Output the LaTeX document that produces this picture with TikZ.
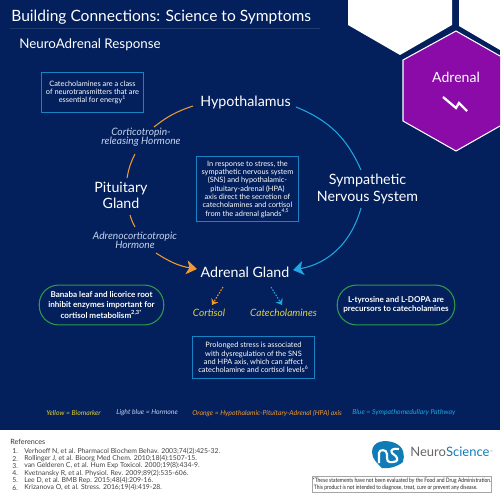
\documentclass[tikz,border=0pt]{standalone}
\usepackage{fontspec}
\setmainfont{Lato}
\newfontfamily\notefont[FakeStretch=0.82]{Lato}
\usetikzlibrary{arrows.meta}
\definecolor{navy}{HTML}{03205C}
\definecolor{hexpurple}{HTML}{8A0BA8}
\definecolor{hpaorange}{HTML}{F29A2E}
\definecolor{smblue}{HTML}{1EA7E1}
\definecolor{boxblue}{HTML}{1583C4}
\definecolor{pillgreen}{HTML}{2E9A4A}
\definecolor{hormoneblue}{HTML}{C5D3F0}
\definecolor{markeryellow}{HTML}{E0D040}
\definecolor{nsblue}{HTML}{0F7CB8}
\tikzset{
  organ/.style={text=white, align=center, inner sep=0pt, font=\fontsize{8.1}{9.2}\selectfont},
  hormone/.style={text=hormoneblue, align=center, inner sep=0pt, font=\fontsize{5.8}{5.3}\selectfont\itshape},
  marker/.style={text=markeryellow, inner sep=0pt, font=\fontsize{5.75}{7}\selectfont\itshape},
  infobox/.style={draw=boxblue, line width=0.6pt, text=white, align=center, inner sep=0pt, font=\fontsize{4.2}{4.75}\selectfont},
  pillbox/.style={draw=pillgreen, line width=0.6pt, text=white, align=center, rounded corners=11pt, inner sep=0pt, font=\fontsize{4.6}{5.2}\selectfont\bfseries},
  legend/.style={anchor=west, inner sep=0pt, font=\fontsize{3.9}{4}\selectfont\itshape},
  reftext/.style={anchor=west, inner sep=0pt, text=black!75, font=\fontsize{3.9}{4}\selectfont},
  hpa/.style={draw=hpaorange, line width=0.6pt},
  sm/.style={draw=smblue, line width=0.6pt},
  bighead/.style={-{Stealth[length=6pt, width=8pt, inset=1.6pt]}},
  dotarrow/.style={line width=0.6pt, dash pattern=on 0.9pt off 0.8pt, -{Stealth[length=3.2pt, width=4.6pt]}}
}
\begin{document}
\begin{tikzpicture}[x=0.02cm, y=-0.02cm]
\useasboundingbox (0,0) rectangle (500,500);
% Background
\fill[navy] (0,0) rectangle (500,430);
\fill[white] (348,0) -- (348,25) -- (400,55) -- (452,25) -- (452,0) -- cycle;
\fill[white] (459,0) -- (459,26) -- (500,50) -- (500,0) -- cycle;
\draw[white, line width=0.6pt, fill=hexpurple] (500,56) -- (456,31) -- (403,60) -- (403,121) -- (456,151) -- (500,126);

% Headings
\node[anchor=west, inner sep=0pt, text=white, font=\fontsize{8.85}{10}\selectfont] (title) at (11,17) {Building Connections: Science to Symptoms};
\node[anchor=west, inner sep=0pt, text=white, font=\fontsize{7.6}{9}\selectfont] (subtitle) at (19,45) {NeuroAdrenal Response};
\draw[white, opacity=0.12, line width=0.3pt] (10,28) -- (320,28);

% Hexagon label
\node[text=white, font=\fontsize{8}{9}\selectfont] (adrenal) at (456,77) {Adrenal};
\draw[white, line width=1.3pt] (443,97) -- (456,108) -- (459,103) -- (467,111);

% Stations of the loop
\node[organ] (hypo) at (245.5,102) {Hypothalamus};
\node[organ] (pit) at (121,195) {Pituitary\\Gland};
\node[organ] (sns) at (367.5,189) {Sympathetic\\Nervous System};
\node[organ] (gland) at (245,272) {Adrenal Gland};
\node[hormone] (crh) at (141,137.5) {Corticotropin-\\releasing Hormone};
\node[hormone] (acth) at (135,240) {Adrenocorticotropic\\Hormone};

% Orange loop
\coordinate (h1) at (193,106);
\coordinate (c1) at (154,127);
\coordinate (c2) at (135,154);
\coordinate (p1) at (127,178);
\coordinate (p2) at (130,215);
\coordinate (a1) at (135,227);
\coordinate (a2) at (156,253);
\coordinate (g1) at (197,269);
\draw[hpa] (h1) to[bend right=10] (c1);
\draw[hpa] (c2) to[bend right=8] (p1);
\draw[hpa] (p2) to[bend right=6] (a1);
\draw[hpa, bighead] (a2) to[bend right=12] (g1);

% Blue loop
\coordinate (h2) at (296,107);
\coordinate (s1) at (361,170);
\coordinate (s2) at (361,208);
\coordinate (g2) at (293,270);
\draw[sm] (h2) to[bend left=22] (s1);
\draw[sm, bighead] (s2) to[bend left=32] (g2);

% Products
\node[marker] (cort) at (209,313) {Cortisol};
\node[marker] (cat) at (283.5,313) {Catecholamines};
\coordinate (g3) at (223,287);
\coordinate (g4) at (271,287);
\coordinate (c3) at (212,305);
\coordinate (c4) at (282,305);
\draw[hpaorange, dotarrow] (g3) -- (c3);
\draw[smblue, dotarrow] (g4) -- (c4);

% Boxes
\node[infobox, minimum width=103*0.567pt, minimum height=41*0.567pt] (box1) at (92.5,92.5) {Catecholamines are a class\\of neurotransmitters that are\\essential for energy\textsuperscript{1}};
\node[infobox, minimum width=103*0.567pt, minimum height=66*0.567pt] (box2) at (247.5,189) {In response to stress, the\\sympathetic nervous system\\(SNS) and hypothalamic-\\pituitary-adrenal (HPA)\\axis direct the secretion of\\catecholamines and cortisol\\from the adrenal glands\textsuperscript{4,5}};
\node[infobox, minimum width=123*0.567pt, minimum height=43*0.567pt] (box3) at (253.5,357.5) {Prolonged stress is associated\\with dysregulation of the SNS\\and HPA axis, which can affect\\catecholamine and cortisol levels\textsuperscript{6}};
\node[pillbox, minimum width=125*0.567pt, minimum height=40*0.567pt] (pill1) at (101.5,305) {Banaba leaf and licorice root\\inhibit enzymes important for\\cortisol metabolism\textsuperscript{2,3*}};
\node[pillbox, minimum width=118*0.567pt, minimum height=40*0.567pt] (pill2) at (396,305) {L-tyrosine and L-DOPA are\\precursors to catecholamines};

% Legend
\node[legend, text=markeryellow] (l1) at (46,413) {Yellow = Biomarker};
\node[legend, text=hormoneblue] (l2) at (116,413) {Light blue = Hormone};
\node[legend, text=hpaorange] (l3) at (192,413) {Orange = Hypothalamic-Pituitary-Adrenal (HPA) axis};
\node[legend, text=smblue] (l4) at (352,413) {Blue = Sympathomedullary Pathway};

% References
\node[anchor=west, inner sep=0pt, text=black!80, font=\fontsize{4.1}{5}\selectfont] (refs) at (10,441.5) {References};
\foreach \n/\y/\t in {1/451.5/{Verhoeff N, et al. Pharmacol Biochem Behav. 2003;74(2):425-32.},
  2/458.7/{Rollinger J, et al. Bioorg Med Chem. 2010;18(4):1507-15.},
  3/465.9/{van Gelderen C, et al. Hum Exp Toxicol. 2000;19(8):434-9.},
  4/473.2/{Kvetnansky R, et al. Physiol. Rev. 2009;89(2):535-606.},
  5/480.4/{Lee D, et al. BMB Rep. 2015;48(4):209-16.},
  6/487.7/{Krizanova O, et al. Stress. 2016;19(4):419-28.}}
  {
  \node[reftext] (num\n) at (12,\y) {\n.};
  \node[reftext] (ref\n) at (24,\y) {\t};
  }

% Logo
\fill[nsblue] (372,452) .. controls (372,441) and (385,439) .. (395,443) .. controls (404,447) and (405,455) .. (403,462) .. controls (397,467) and (388,469) .. (382,468) .. controls (377,463) and (372,459) .. (372,452) -- cycle;
\draw[white, line width=1.2pt] (379,463) -- (379,453) .. controls (379,449) and (387,449) .. (387,454) -- (387,458) .. controls (387,463) and (391,463) .. (397,461);
\draw[white, line width=1.2pt] (399,449) .. controls (393,448) and (390,450) .. (392,453) .. controls (395,456) and (398,456) .. (397,461);
\node[anchor=west, inner sep=0pt, font=\fontsize{7.4}{8}\selectfont] (brand) at (410,452) {\textcolor{black!60}{Neuro}\textcolor{nsblue}{Science}};
\node[anchor=west, inner sep=0pt, text=black!60, font=\fontsize{2}{2}\selectfont] (tm) at (brand.east) {™};

% Disclaimer
\node[draw=black!35, line width=0.3pt, minimum width=180*0.567pt, minimum height=16*0.567pt, inner sep=0pt, align=left, text=black!85, font=\notefont\fontsize{3.45}{3.8}\selectfont] (note) at (402,484) {*These statements have not been evaluated by the Food and Drug Administration.\\ \ This product is not intended to diagnose, treat, cure or prevent any disease.};
\end{tikzpicture}
\end{document}
